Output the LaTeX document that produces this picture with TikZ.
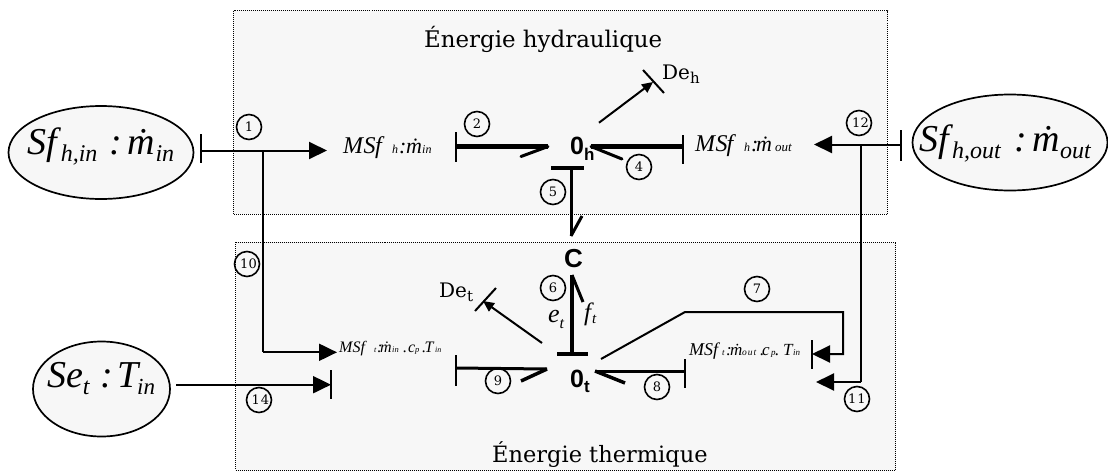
\documentclass[tikz,border=0pt]{standalone}
\usepackage{fontspec}
\setmainfont{Liberation Serif}
\newfontfamily\bkf{DejaVu Serif}
\newfontfamily\sansf{Liberation Sans}
\usetikzlibrary{shapes.geometric,arrows.meta}
\newcommand\fz[1]{\fontsize{#1}{#1}\selectfont}
\newcommand\dn[3]{\raisebox{-#1pt}{\fz{#2}#3}}
\newcommand\cell[3]{\makebox[#1pt][l]{\fz{#2}#3}}
\newcommand\flatbox[2]{\makebox[0pt]{\raisebox{#1pt}[0pt][0pt]{#2}}}
\definecolor{pale}{HTML}{F7F7F7}
\tikzset{
  x=1pt,y=-1pt,
  zone/.style={fill=pale,draw=black,line width=1pt,dash pattern=on 1pt off 1pt},
  source/.style={ellipse,draw=black,fill=pale,line width=1.7pt,inner sep=0pt},
  num/.style={circle,draw=black,line width=1.6pt,minimum size=25pt,inner sep=0pt,font=\bkf\fz{13}},
  txt/.style={inner sep=0pt,anchor=base west},
  bar/.style={line width=2pt},
  thin bond/.style={line width=2pt},
  mid bond/.style={line width=3pt},
  heavy bond/.style={line width=4.5pt},
  solid tip/.style={-{Triangle[length=18pt,width=17pt]}},
  small tip/.style={-{Triangle[length=11pt,width=10pt]}},
}
\begin{document}
\begin{tikzpicture}
\path[use as bounding box] (0,0) rectangle (1108,472);
\draw[zone] (233.5,10.5) rectangle (887.5,214);
\draw[zone] (235.5,242) rectangle (895.5,470);
% sources
\node[source,minimum width=185pt,minimum height=93pt] (sfin) at (101,152.5)
  {\flatbox{-1.5}{\itshape\fz{38}Sf\kern3.4pt\dn{7}{24}{h,in}\kern12pt:\kern5pt\.m\kern1pt\dn{7}{24}{in}}};
\node[source,minimum width=195pt,minimum height=96pt] (sfout) at (1010,142.5)
  {\flatbox{-9}{\itshape\fz{38}Sf\kern3.4pt\dn{7}{24}{h,out}\kern14pt:\kern5.4pt\.m\dn{7}{24}{out}\kern10pt}};
\node[source,minimum width=137pt,minimum height=95pt] (set) at (101.5,389)
  {\flatbox{1.3}{\itshape\fz{38}Se\kern-1pt\dn{7}{24}{t}\kern11pt:\kern4pt T\kern-1pt\dn{7}{23}{in}}};
% titles
\node[txt] (th) at (424,47) {\bkf\fz{22.9}Énergie hydraulique};
\node[txt] (tt) at (492,462) {\bkf\fz{22.5}Énergie thermique};
% junctions
\node[txt] (zh) at (570,154) {\sansf\bfseries\fz{25}0\dn{6}{17}{h}};
\node[txt] (zt) at (570,387) {\sansf\bfseries\fz{25}0\dn{5}{17}{t}};
\node[txt] (cc) at (564,267) {\sansf\bfseries\fz{26}C};
% modulated sources
\node[txt] (ma) at (343,153) {\itshape\cell{20.5}{24}{M}\cell{11.5}{24}{S}\cell{17}{24}{f}\cell{7}{12}{h}\cell{7}{22}{:}\cell{16}{22}{\.m}\cell{12}{12}{in}};
\node[txt] (mb) at (695,151) {\itshape\cell{20.5}{24}{M}\cell{11}{24}{S}\cell{17.5}{24}{f}\cell{7}{12}{h}\cell{5}{22}{:}\cell{19}{22}{\.m}\cell{20}{13}{out}};
\node[txt] (mc) at (339,352) {\itshape\cell{35}{16}{MSf}\cell{3}{8}{t}\cell{3}{16}{:}\cell{12}{16}{\.m}\cell{11}{8.5}{in}\cell{5}{16}{.}\cell{7}{16}{c}\cell{7}{8.5}{p}\cell{2.5}{16}{.}\cell{10.5}{16}{T}\cell{6}{8}{in}};
\node[txt] (md) at (689,355) {\itshape\cell{33}{18}{MSf}\cell{4}{9}{t}\cell{4}{17}{:}\cell{12}{17}{\.m}\cell{18}{9.5}{o\kern1pt u\kern1pt t}\cell{2}{17}{.}\cell{9}{17}{c}\cell{4}{9}{p}\cell{8}{17}{.}\cell{10}{17}{T}\cell{6}{9}{in}};
\node[txt] (deh) at (662,79) {\bkf\fz{20}De\dn{4}{15}{h}};
\node[txt] (det) at (439,297) {\bkf\fz{20}De\dn{4}{15}{t}};
\node[txt] (et) at (548,322) {\itshape\fz{26}e\dn{6}{16}{t}};
\node[txt] (ft) at (584,320) {\itshape\fz{25}f\dn{3}{15}{\kern1pt t}};
% connector end points
\coordinate (s1) at (201,150.5); \coordinate (j1) at (263,150.5); \coordinate (m1) at (327,150.5);
\coordinate (m10) at (337,352.3); \coordinate (k10) at (263,352.3);
\coordinate (s14) at (176,384.7); \coordinate (e14) at (331,384.7);
\coordinate (s12) at (901,144.5); \coordinate (j12) at (861,144.5); \coordinate (m12) at (814,144.5);
\coordinate (k11) at (861,382); \coordinate (m11) at (816,382);
\coordinate (b2) at (456,146.5); \coordinate (h2) at (548,146.5); \coordinate (f2) at (521,156.5);
\coordinate (b4) at (683,146.5); \coordinate (h4) at (591,146.5); \coordinate (f4) at (622,159);
\coordinate (b5) at (571,168); \coordinate (h5) at (571,236); \coordinate (f5) at (582,216);
\coordinate (b6) at (572,354); \coordinate (h6) at (572,275); \coordinate (f6) at (583,302);
\coordinate (b8) at (685,371); \coordinate (h8) at (595,371); \coordinate (f8) at (625,383);
\coordinate (b9) at (456,368); \coordinate (h9) at (547,369); \coordinate (f9) at (521,381);
\coordinate (a7) at (601,359); \coordinate (a7b) at (685,312); \coordinate (a7c) at (843,312); \coordinate (a7d) at (843,354); \coordinate (e7) at (812,354);
\coordinate (dha) at (599,122.7); \coordinate (dhb) at (653,82);
\coordinate (dta) at (542,343); \coordinate (dtb) at (483,301);
% inlet and outlet bonds
\draw[thin bond,solid tip] (s1) -- (m1);
\draw[bar] (201,134) -- (201,163);
\draw[thin bond] (j1) -- (k10);
\draw[thin bond,solid tip] (k10) -- (m10);
\draw[thin bond,solid tip] (s14) -- (e14);
\draw[bar] (331,370) -- (331,399);
\draw[thin bond,solid tip] (s12) -- (m12);
\draw[bar] (901,130) -- (901,161);
\draw[thin bond] (j12) -- (k11);
\draw[thin bond,solid tip] (k11) -- (m11);
% power bonds
\draw[heavy bond] (b2) -- (h2);
\draw[mid bond,line cap=round] (h2) -- (f2);
\draw[bar,line width=2.4pt] (456,132) -- (456,162);
\draw[heavy bond] (b4) -- (h4);
\draw[mid bond,line cap=round] (h4) -- (f4);
\draw[bar,line width=2.4pt] (683,135) -- (683,164);
\draw[mid bond] (b5) -- (h5);
\draw[mid bond] (h5) -- (f5);
\draw[heavy bond] (551,168) -- (584,168);
\draw[heavy bond] (b6) -- (h6);
\draw[mid bond] (h6) -- (f6);
\draw[heavy bond] (557,354) -- (588,354);
\draw[mid bond] (b8) -- (h8);
\draw[mid bond,line width=3.5pt] (h8) -- (f8);
\draw[bar,line width=2.4pt] (685,359) -- (685,388);
\draw[mid bond] (b9) -- (h9);
\draw[mid bond,line width=3.5pt] (h9) -- (f9);
\draw[bar,line width=2.4pt] (456,355) -- (456,386);
% bond 7
\draw[thin bond,line join=miter,solid tip] (a7) -- (a7b) -- (a7c) -- (a7d) -- (e7);
\draw[bar] (812,340) -- (812,369);
% dissipators
\draw[thin bond,small tip] (dha) -- (dhb);
\draw[bar] (643,70) -- (664,93);
\draw[thin bond,small tip] (dta) -- (dtb);
\draw[bar] (496,288) -- (475,311);
% numbers
\node[num] (n1) at (249,127) {1};
\node[num] (n2) at (477,124) {2};
\node[num] (n4) at (639,167) {4};
\node[num] (n5) at (553,192) {5};
\node[num] (n6) at (553,288) {6};
\node[num] (n7) at (757,289) {7};
\node[num] (n8) at (657,387) {8};
\node[num] (n9) at (498,381) {9};
\node[num] (n10) at (247,264) {\kern3pt 10};
\node[num] (n11) at (857,399) {1\kern1pt 1};
\node[num] (n12) at (859,123) {\kern3pt 12};
\node[num] (n14) at (259,400) {\kern3pt 1\kern1pt 4};
\end{tikzpicture}
\end{document}
